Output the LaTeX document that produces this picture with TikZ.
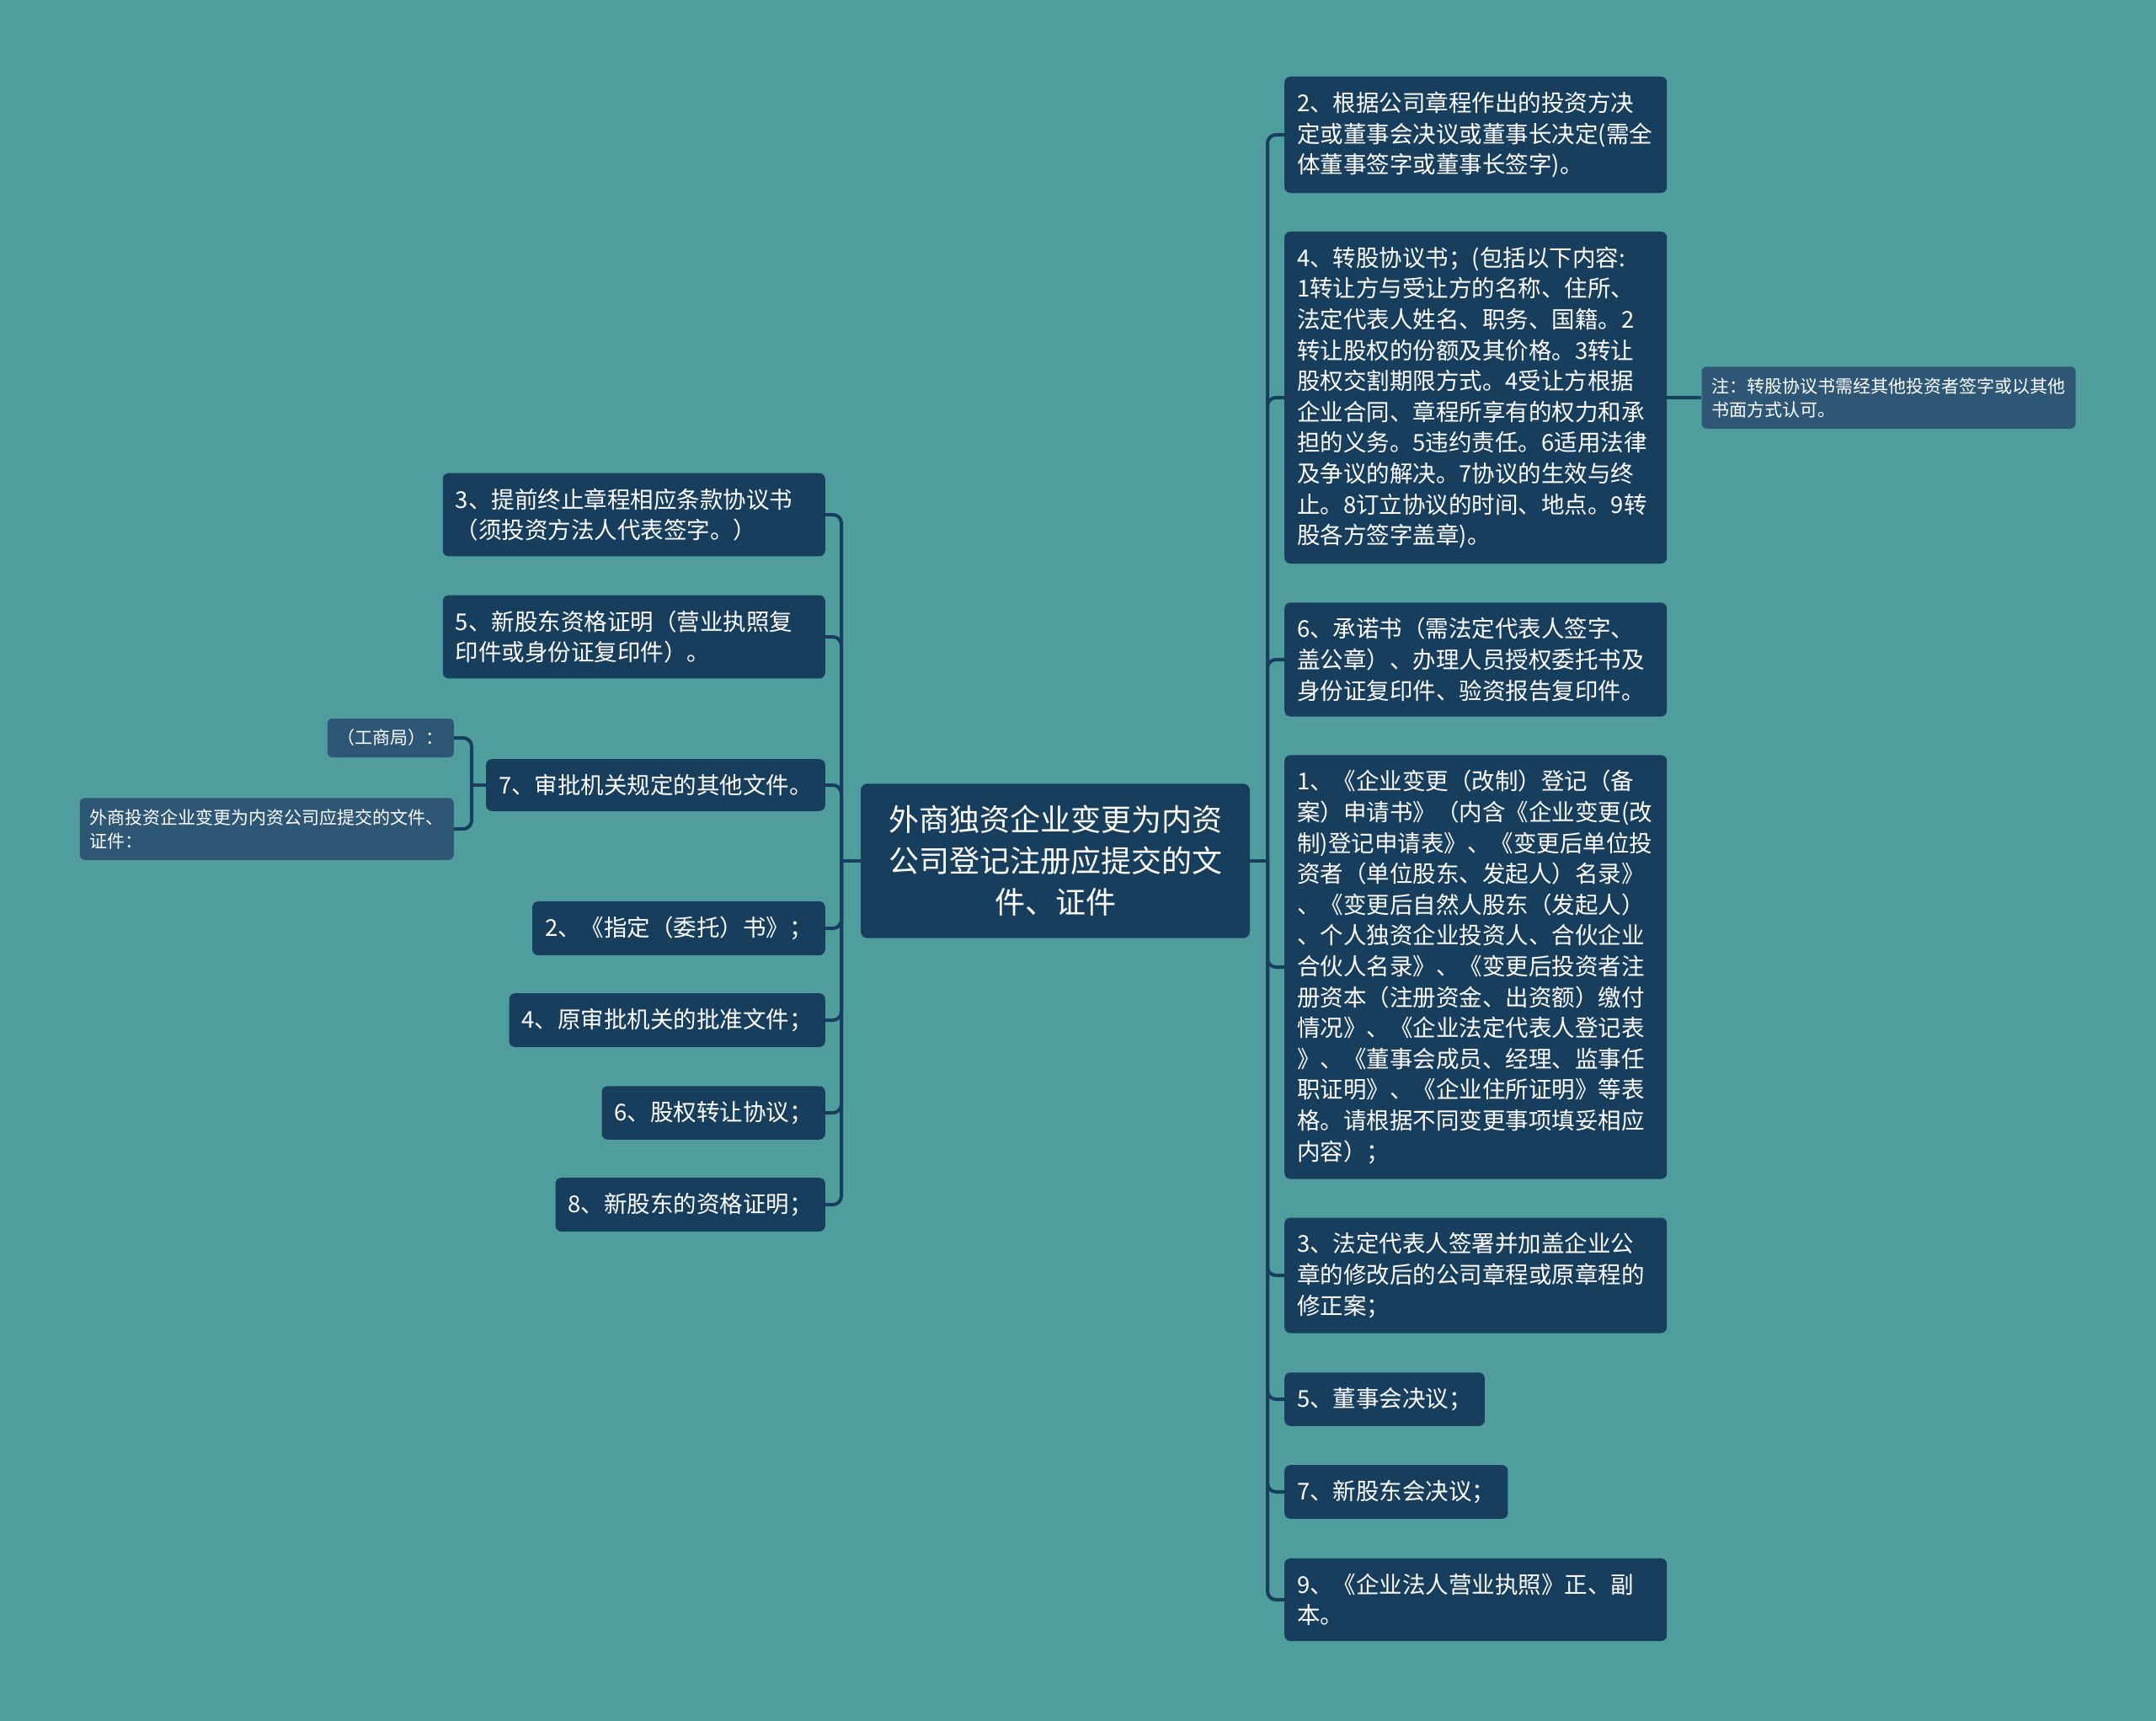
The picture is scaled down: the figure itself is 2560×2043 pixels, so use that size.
\documentclass[tikz,border=0pt]{standalone}
\usepackage{fontspec}
\setmainfont{Noto Sans CJK SC}
\usetikzlibrary{positioning}

\definecolor{bgteal}{RGB}{79,157,157}
\definecolor{boxblue}{RGB}{24,62,93}
\definecolor{subblue}{RGB}{46,87,118}

\begin{document}
\begin{tikzpicture}[x=1pt,y=-1pt,
  root node/.style={fill=boxblue,text=white,rounded corners=8pt,align=center,
    font=\fontsize{36}{49}\selectfont,inner xsep=33pt,inner ysep=26pt},
  item node/.style={fill=boxblue,text=white,rounded corners=7pt,align=left,
    font=\fontsize{27.5}{36.6}\selectfont,inner xsep=15pt,inner ysep=18pt},
  wide/.style={text width=424pt},
  note node/.style={fill=subblue,text=white,rounded corners=6pt,align=left,
    font=\fontsize{21}{28}\selectfont,inner xsep=12pt,inner ysep=13pt},
  link/.style={draw=boxblue,line width=4pt,rounded corners=10pt}]
  \fill[bgteal] (0,0) rectangle (2560,2043);
  \useasboundingbox (0,0) rectangle (2560,2043);

  \node[root node] (root) at (1253,1022) {外商独资企业变更为内资\\公司登记注册应提交的文\\件、证件};

  % right branch
  \node[item node, wide, anchor=west] (r1) at (1525,160) {2、根据公司章程作出的投资方决\\定或董事会决议或董事长决定(需全\\体董事签字或董事长签字)。};
  \node[item node, wide, anchor=west] (r2) at (1525,472) {4、转股协议书；(包括以下内容:\\1转让方与受让方的名称、住所、\\法定代表人姓名、职务、国籍。2\\转让股权的份额及其价格。3转让\\股权交割期限方式。4受让方根据\\企业合同、章程所享有的权力和承\\担的义务。5违约责任。6适用法律\\及争议的解决。7协议的生效与终\\止。8订立协议的时间、地点。9转\\股各方签字盖章)。};
  \node[note node, right=41pt of r2] (nt) {注：转股协议书需经其他投资者签字或以其他\\书面方式认可。};
  \node[item node, wide, anchor=west] (r3) at (1525,783) {6、承诺书（需法定代表人签字、\\盖公章）、办理人员授权委托书及\\身份证复印件、验资报告复印件。};
  \node[item node, wide, anchor=west] (r4) at (1525,1148) {1、《企业变更（改制）登记（备\\案）申请书》（内含《企业变更(改\\制)登记申请表》、《变更后单位投\\资者（单位股东、发起人）名录》\\、《变更后自然人股东（发起人）\\、个人独资企业投资人、合伙企业\\合伙人名录》、《变更后投资者注\\册资本（注册资金、出资额）缴付\\情况》、《企业法定代表人登记表\\》、《董事会成员、经理、监事任\\职证明》、《企业住所证明》等表\\格。请根据不同变更事项填妥相应\\内容）；};
  \node[item node, wide, anchor=west] (r5) at (1525,1514) {3、法定代表人签署并加盖企业公\\章的修改后的公司章程或原章程的\\修正案；};
  \node[item node, anchor=west] (r6) at (1525,1661) {5、董事会决议；};
  \node[item node, anchor=west] (r7) at (1525,1771) {7、新股东会决议；};
  \node[item node, wide, anchor=west] (r8) at (1525,1899) {9、《企业法人营业执照》正、副\\本。};

  % left branch
  \node[item node, wide, anchor=east] (l1) at (980,611) {3、提前终止章程相应条款协议书\\（须投资方法人代表签字。）};
  \node[item node, wide, anchor=east] (l2) at (980,756) {5、新股东资格证明（营业执照复\\印件或身份证复印件）。};
  \node[item node, anchor=east] (l3) at (980,932) {7、审批机关规定的其他文件。};
  \node[item node, anchor=east] (l4) at (980,1102) {2、《指定（委托）书》；};
  \node[item node, anchor=east] (l5) at (980,1211) {4、原审批机关的批准文件；};
  \node[item node, anchor=east] (l6) at (980,1321) {6、股权转让协议；};
  \node[item node, anchor=east] (l7) at (980,1430) {8、新股东的资格证明；};

  \node[note node, anchor=east] (gs) at (539,876) {（工商局）：};
  \node[note node, anchor=east] (wz) at (539,984) {外商投资企业变更为内资公司应提交的文件、\\证件：};

  % connectors
  \coordinate (jr) at (1505,1022);
  \coordinate (jl) at (999,1022);
  \coordinate (js) at (560,932);
  \draw[link] (root.east) -- (jr);
  \draw[link] (root.west) -- (jl);
  \foreach \n in {r1,r2,r3,r4,r5,r6,r7,r8}
    \draw[link] (jr) |- (\n.west);
  \foreach \n in {l1,l2,l3,l4,l5,l6,l7}
    \draw[link] (jl) |- (\n.east);
  \draw[link] (r2.east) -- (nt.west);
  \draw[link] (l3.west) -- (js);
  \draw[link] (js) |- (gs.east);
  \draw[link] (js) |- (wz.east);
\end{tikzpicture}
\end{document}
